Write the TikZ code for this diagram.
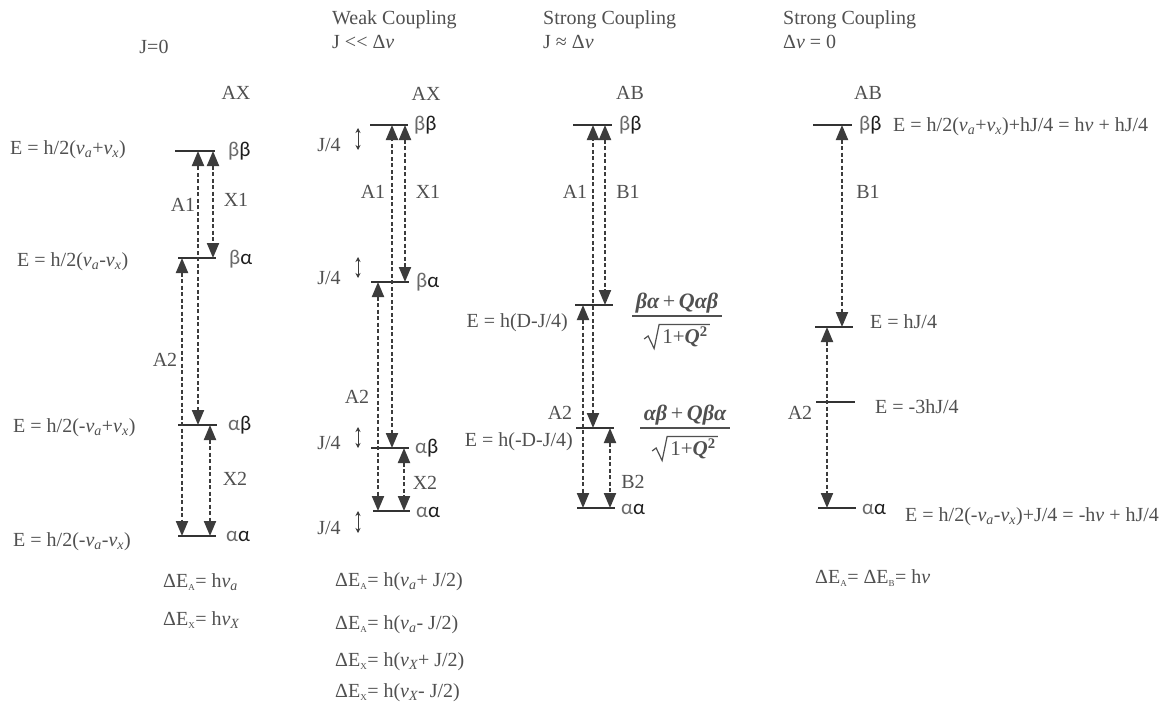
\documentclass[tikz,border=0pt]{standalone}
\usepackage{fontspec}
\setmainfont{Liberation Serif}
\newfontfamily\gkfont{Carlito}
\usetikzlibrary{arrows.meta,calc}
\definecolor{txtc}{HTML}{505050}
\definecolor{linec}{HTML}{333333}
\definecolor{arrc}{HTML}{3C3C3C}
\definecolor{gkl}{HTML}{6A6A6A}
\definecolor{gkd}{HTML}{1E1E1E}
\newcommand{\nuv}{{\itshape ν}}
\newcommand{\subi}[1]{\textsubscript{\itshape #1}}
\newcommand{\subr}[1]{\textsubscript{\fontsize{9}{10}\selectfont #1}}
\newcommand{\bi}[1]{{\bfseries\itshape #1}}
\newcommand{\gkpair}[2]{{\gkfont\textcolor{gkl}{#1}\textcolor{gkd}{#2}}}
% wave-function fraction: #1 name, #2 x centre, #3 bar y, #4 numerator
\newcommand{\wavefn}[4]{%
  \node[txt, font=\fontsize{22}{24}\selectfont] (#1n) at (#2,#3-13) {#4};
  \draw[fbar] (#2-45,#3) coordinate (#1L) -- (#2+45,#3) coordinate (#1R);
  \node[txt, font=\fontsize{21}{24}\selectfont] (#1d) at (#2+8,#3+21) {1+\bi{Q}\textsuperscript{\bfseries 2}};
  \draw[fbar, line width=1.2pt, line join=miter]
    ($(#1d.west)+(-18,2)$) -- ($(#1d.west)+(-14,-1)$) -- ($(#1d.south west)+(-8,1)$)
    -- ($(#1d.north west)+(-3,-2)$) -- ($(#1d.north east)+(2,-2)$);
}
\begin{document}
\begin{tikzpicture}[x=1pt,y=-1pt,
  txt/.style={text=txtc, font=\fontsize{20}{24}\selectfont, inner sep=0pt},
  gk/.style={font=\fontsize{21}{24}\selectfont, inner sep=0pt, anchor=west},
  lvl/.style={draw=linec, line width=2.2pt},
  fbar/.style={draw=txtc, line width=1.3pt},
  tr/.style={draw=arrc, line width=2pt, dash pattern=on 4pt off 2.5pt,
    {Triangle[width=12pt,length=15pt]}-{Triangle[width=12pt,length=15pt]}},
  jarr/.style={draw=arrc, line width=1pt,
    {Stealth[width=5pt,length=5pt]}-{Stealth[width=5pt,length=5pt]}}]
\fill[white] (0,0) rectangle (1160,704);
\useasboundingbox (0,0) rectangle (1160,704);

% ================= Column 1: J=0 =================
\node[txt] (h1) at (154,47) {J=0};
\node[txt] (ax1) at (236,93) {AX};
\draw[lvl] (175,151) coordinate (l1a) -- (215,151) coordinate (l1aR);
\draw[lvl] (178,258) coordinate (l1b) -- (216,258) coordinate (l1bR);
\draw[lvl] (178,425) coordinate (l1c) -- (217,425) coordinate (l1cR);
\draw[lvl] (178,536) coordinate (l1d) -- (216,536) coordinate (l1dR);
\node[gk] (g1a) at (228,151) {\gkpair{β}{β}};
\node[gk] (g1b) at (229,259) {\gkpair{β}{α}};
\node[gk] (g1c) at (228,425) {\gkpair{α}{β}};
\node[gk] (g1d) at (226,536) {\gkpair{α}{α}};
\node[txt,anchor=west] (e1a) at (10,150) {E = h/2(\nuv\subi{a}+\nuv\subi{x})};
\node[txt,anchor=west] (e1b) at (17,262) {E = h/2(\nuv\subi{a}-\nuv\subi{x})};
\node[txt,anchor=west] (e1c) at (13,428) {E = h/2(-\nuv\subi{a}+\nuv\subi{x})};
\node[txt,anchor=west] (e1d) at (13,542) {E = h/2(-\nuv\subi{a}-\nuv\subi{x})};
\coordinate (t1a1) at (198,425); \coordinate (t1a2) at (198,151);
\coordinate (t1x1) at (213,151); \coordinate (t1x2) at (213,258);
\coordinate (t1b1) at (182,258); \coordinate (t1b2) at (182,536);
\coordinate (t1y1) at (210,425); \coordinate (t1y2) at (210,536);
\draw[tr] (t1a1) -- (t1a2);
\draw[tr] (t1x1) -- (t1x2);
\draw[tr] (t1b1) -- (t1b2);
\draw[tr] (t1y1) -- (t1y2);
\node[txt] (n1a1) at (183,205) {A1};
\node[txt] (n1x1) at (236,200) {X1};
\node[txt] (n1a2) at (165,360) {A2};
\node[txt] (n1x2) at (235,479) {X2};
\node[txt,anchor=west] (d1a) at (163,582) {ΔE\subr{A}= h\nuv\subi{a}};
\node[txt,anchor=west] (d1x) at (163,620) {ΔE\subr{X}= h\nuv\subi{X}};

% ================= Column 2: weak coupling =================
\node[txt,anchor=west] (h2a) at (332,20) {Weak Coupling};
\node[txt,anchor=west] (h2b) at (332,42) {J <{}< Δ\nuv};
\node[txt] (ax2) at (426,94) {AX};
\draw[lvl] (370,125) coordinate (l2a) -- (408,125) coordinate (l2aR);
\draw[lvl] (371,282) coordinate (l2b) -- (409,282) coordinate (l2bR);
\draw[lvl] (371,448) coordinate (l2c) -- (409,448) coordinate (l2cR);
\draw[lvl] (373,511) coordinate (l2d) -- (410,511) coordinate (l2dR);
\node[gk] (g2a) at (414,125) {\gkpair{β}{β}};
\node[gk] (g2b) at (416,282) {\gkpair{β}{α}};
\node[gk] (g2c) at (415,448) {\gkpair{α}{β}};
\node[gk] (g2d) at (416,512) {\gkpair{α}{α}};
\node[txt] (j2a) at (329,145) {J/4};
\node[txt] (j2b) at (329,278) {J/4};
\node[txt] (j2c) at (329,443) {J/4};
\node[txt] (j2d) at (329,528) {J/4};
\coordinate (s2a1) at (358,128); \coordinate (s2a2) at (358,150);
\coordinate (s2b1) at (358,257); \coordinate (s2b2) at (358,278);
\coordinate (s2c1) at (358,427); \coordinate (s2c2) at (358,448);
\coordinate (s2d1) at (358,511); \coordinate (s2d2) at (358,533);
\draw[jarr] (s2a1) -- (s2a2);
\draw[jarr] (s2b1) -- (s2b2);
\draw[jarr] (s2c1) -- (s2c2);
\draw[jarr] (s2d1) -- (s2d2);
\coordinate (t2a1) at (392,448); \coordinate (t2a2) at (392,125);
\coordinate (t2x1) at (405,125); \coordinate (t2x2) at (405,282);
\coordinate (t2b1) at (378,282); \coordinate (t2b2) at (378,511);
\coordinate (t2y1) at (404,448); \coordinate (t2y2) at (404,511);
\draw[tr] (t2a1) -- (t2a2);
\draw[tr] (t2x1) -- (t2x2);
\draw[tr] (t2b1) -- (t2b2);
\draw[tr] (t2y1) -- (t2y2);
\node[txt] (n2a1) at (373,192) {A1};
\node[txt] (n2x1) at (428,192) {X1};
\node[txt] (n2a2) at (357,397) {A2};
\node[txt] (n2x2) at (425,483) {X2};
\node[txt,anchor=west] (d2a) at (335,582) {ΔE\subr{A}= h(\nuv\subi{a}+ J/2)};
\node[txt,anchor=west] (d2b) at (335,625) {ΔE\subr{A}= h(\nuv\subi{a}- J/2)};
\node[txt,anchor=west] (d2c) at (335,662) {ΔE\subr{X}= h(\nuv\subi{X}+ J/2)};
\node[txt,anchor=west] (d2d) at (335,693) {ΔE\subr{X}= h(\nuv\subi{X}- J/2)};

% ================= Column 3: strong coupling =================
\node[txt,anchor=west] (h3a) at (543,20) {Strong Coupling};
\node[txt,anchor=west] (h3b) at (543,42) {J ≈ Δ\nuv};
\node[txt] (ab3) at (630,93) {AB};
\draw[lvl] (573,125) coordinate (l3a) -- (612,125) coordinate (l3aR);
\draw[lvl] (575,305) coordinate (l3b) -- (613,305) coordinate (l3bR);
\draw[lvl] (576,428) coordinate (l3c) -- (614,428) coordinate (l3cR);
\draw[lvl] (577,508) coordinate (l3d) -- (615,508) coordinate (l3dR);
\node[gk] (g3a) at (619,125) {\gkpair{β}{β}};
\node[gk] (g3d) at (621,509) {\gkpair{α}{α}};
\node[txt,anchor=east] (e3b) at (568,323) {E = h(D-J/4)};
\node[txt,anchor=east] (e3c) at (573,442) {E = h(-D-J/4)};
\wavefn{fa}{677}{316}{\bi{βα}\,+\,\bi{Qαβ}}
\wavefn{fb}{685}{428}{\bi{αβ}\,+\,\bi{Qβα}}
\coordinate (t3a1) at (593,428); \coordinate (t3a2) at (593,125);
\coordinate (t3x1) at (605,125); \coordinate (t3x2) at (605,305);
\coordinate (t3b1) at (583,305); \coordinate (t3b2) at (583,508);
\coordinate (t3y1) at (610,428); \coordinate (t3y2) at (610,508);
\draw[tr] (t3a1) -- (t3a2);
\draw[tr] (t3x1) -- (t3x2);
\draw[tr] (t3b1) -- (t3b2);
\draw[tr] (t3y1) -- (t3y2);
\node[txt] (n3a1) at (575,192) {A1};
\node[txt] (n3b1) at (628,192) {B1};
\node[txt] (n3a2) at (560,413) {A2};
\node[txt] (n3b2) at (633,482) {B2};

% ================= Column 4: strong coupling, dv=0 =================
\node[txt,anchor=west] (h4a) at (783,20) {Strong Coupling};
\node[txt,anchor=west] (h4b) at (783,42) {Δ\nuv{} = 0};
\node[txt] (ab4) at (868,93) {AB};
\draw[lvl] (813,125) coordinate (l4a) -- (852,125) coordinate (l4aR);
\draw[lvl] (815,327) coordinate (l4b) -- (853,327) coordinate (l4bR);
\draw[lvl] (816,402) coordinate (l4c) -- (855,402) coordinate (l4cR);
\draw[lvl] (818,508) coordinate (l4d) -- (856,508) coordinate (l4dR);
\node[gk] (g4a) at (859,125) {\gkpair{β}{β}};
\node[gk] (g4d) at (862,509) {\gkpair{α}{α}};
\node[txt,anchor=west] (e4a) at (893,127) {E = h/2(\nuv\subi{a}+\nuv\subi{x})+hJ/4 = h\nuv{} + hJ/4};
\node[txt,anchor=west] (e4b) at (870,322) {E = hJ/4};
\node[txt,anchor=west] (e4c) at (875,407) {E = -3hJ/4};
\node[txt,anchor=west] (e4d) at (905,517) {E = h/2(-\nuv\subi{a}-\nuv\subi{x})+J/4 = -h\nuv{} + hJ/4};
\coordinate (t4x1) at (842,125); \coordinate (t4x2) at (842,327);
\coordinate (t4b1) at (827,327); \coordinate (t4b2) at (827,508);
\draw[tr] (t4x1) -- (t4x2);
\draw[tr] (t4b1) -- (t4b2);
\node[txt] (n4b1) at (868,192) {B1};
\node[txt] (n4a2) at (800,413) {A2};
\node[txt,anchor=west] (d4) at (815,578) {ΔE\subr{A}= ΔE\subr{B}= h\nuv};
\end{tikzpicture}
\end{document}
